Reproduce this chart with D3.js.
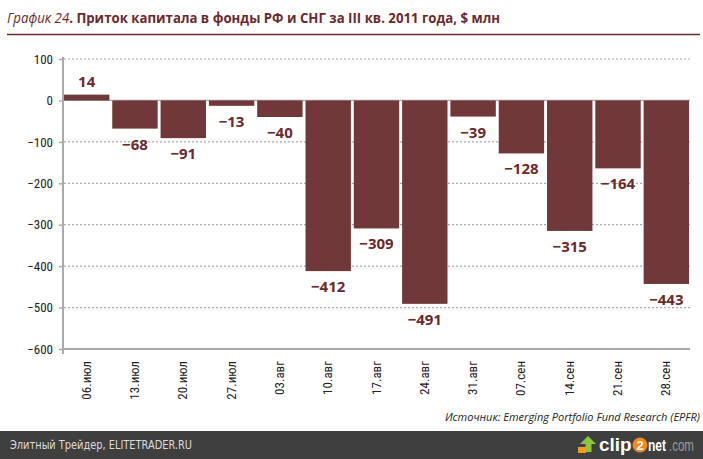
<!DOCTYPE html>
<html lang="ru">
<head>
<meta charset="utf-8">
<title>График 24</title>
<script src="https://d3js.org/d3.v7.min.js"></script>
<style>
  body { margin: 0; background: #fff; }
  svg { display: block; }
</style>
</head>
<body>
<script>
const width = 703, height = 459;

const weeks = ["06.июл", "13.июл", "20.июл", "27.июл", "03.авг", "10.авг", "17.авг",
               "24.авг", "31.авг", "07.сен", "14.сен", "21.сен", "28.сен"];
const flows = [14, -68, -91, -13, -40, -412, -309, -491, -39, -128, -315, -164, -443];
const yTicks = [100, 0, -100, -200, -300, -400, -500, -600];
const gridTicks = [100, -100, -200, -300, -400, -500];

const barColor = "#703838";
const textRed = "#6a2b2e";

const svg = d3.select("body").append("svg")
  .attr("width", width).attr("height", height);

// title
const title = svg.append("text")
  .attr("x", 7).attr("y", 23)
  .attr("font-family", "'Open Sans', sans-serif")
  .attr("font-size", "14px")
  .attr("fill", textRed)
  .attr("textLength", 493)
  .attr("lengthAdjust", "spacingAndGlyphs");
title.append("tspan").attr("font-style", "italic").text("График 24");
title.append("tspan").attr("font-weight", "bold").text(". Приток капитала в фонды РФ и СНГ за III кв. 2011 года, $ млн");

svg.append("line")
  .attr("x1", 7).attr("x2", 700).attr("y1", 34.5).attr("y2", 34.5)
  .attr("stroke", textRed).attr("stroke-width", 1.5);

const x = d3.scaleBand()
  .domain(weeks)
  .range([63, 690])
  .paddingInner(0.06)
  .paddingOuter(0.02);

const y = d3.scaleLinear()
  .domain([-600, 100])
  .range([349, 59]);

// grid
svg.append("g").selectAll("line")
  .data(gridTicks).join("line")
  .attr("x1", 64).attr("x2", 690)
  .attr("y1", d => y(d)).attr("y2", d => y(d))
  .attr("stroke", "#aaa").attr("stroke-width", 1.2)
  .attr("stroke-dasharray", "2,2");

// zero line
svg.append("line")
  .attr("x1", 63).attr("x2", 690)
  .attr("y1", y(0)).attr("y2", y(0))
  .attr("stroke", "#aaa").attr("stroke-width", 1.2);

// bars
svg.append("g").selectAll("rect")
  .data(flows).join("rect")
  .attr("x", (d, i) => x(weeks[i]))
  .attr("width", x.bandwidth())
  .attr("y", d => y(Math.max(0, d)))
  .attr("height", d => Math.abs(y(d) - y(0)))
  .attr("fill", barColor);

// value labels
svg.append("g").selectAll("text")
  .data(flows).join("text")
  .attr("x", (d, i) => x(weeks[i]) + x.bandwidth() / 2)
  .attr("y", d => d >= 0 ? y(d) - 8 : y(d) + 21)
  .attr("text-anchor", "middle")
  .attr("font-family", "'Open Sans', sans-serif")
  .attr("font-weight", "bold")
  .attr("font-size", "15px")
  .attr("fill", textRed)
  .text(d => d < 0 ? "\u2212" + Math.abs(d) : d);

// left axis
const leftAxis = d3.axisLeft(y)
  .tickValues(yTicks)
  .tickSize(4)
  .tickFormat(d => d < 0 ? "\u2212" + Math.abs(d) : d);
const gy = svg.append("g")
  .attr("transform", "translate(63,0)")
  .call(leftAxis);
gy.select(".domain").attr("stroke", "#aaa").attr("stroke-width", 2)
  .attr("d", "M0," + (y(100) - 2) + "V" + (y(-600) + 5));
gy.selectAll(".tick line").attr("stroke", "#aaa").attr("stroke-width", 1.5);
gy.selectAll(".tick text")
  .attr("x", -10)
  .attr("font-family", "'Liberation Sans Narrow', 'Roboto Condensed', 'Open Sans', sans-serif")
  .attr("font-size", "13px")
  .attr("fill", "#222");

// bottom axis
svg.append("line")
  .attr("x1", 62).attr("x2", 690)
  .attr("y1", y(-600)).attr("y2", y(-600))
  .attr("stroke", "#aaa").attr("stroke-width", 2);

svg.append("g").selectAll("text")
  .data(weeks).join("text")
  .attr("transform", d => "translate(" + (x(d) + x.bandwidth() / 2 + 4) + ",361) rotate(-90)")
  .attr("text-anchor", "end")
  .attr("font-family", "'Liberation Sans Narrow', 'Roboto Condensed', 'Open Sans', sans-serif")
  .attr("font-size", "13px")
  .attr("fill", "#222")
  .text(d => d);

// source
svg.append("text")
  .attr("x", 700).attr("y", 421)
  .attr("text-anchor", "end")
  .attr("font-family", "'Liberation Sans Narrow', 'Open Sans', sans-serif")
  .attr("font-style", "italic")
  .attr("font-size", "11px")
  .attr("fill", "#222")
  .text("Источник: Emerging Portfolio Fund Research (EPFR)");

// footer
svg.append("rect")
  .attr("x", 0).attr("y", 431).attr("width", width).attr("height", 28)
  .attr("fill", "#3f3f3f");
svg.append("text")
  .attr("x", 10).attr("y", 449)
  .attr("font-family", "'DejaVu Sans', sans-serif")
  .attr("font-size", "12px")
  .attr("fill", "#dcdcdc")
  .attr("textLength", 182)
  .attr("lengthAdjust", "spacingAndGlyphs")
  .text("Элитный Трейдер, ELITETRADER.RU");

// clip2net logo
const logo = svg.append("g").attr("transform", "translate(578,433)");
logo.append("path")
  .attr("d", "M10,3 L18,11 L13.5,11 L13.5,19 L7.5,19 L7.5,11 L2,11 Z")
  .attr("fill", "#8cc63f");
logo.append("rect").attr("x", 0).attr("y", 14).attr("width", 8).attr("height", 6).attr("fill", "#f39a1e");
logo.append("text")
  .attr("transform", "translate(21,18) scale(1.05,1)")
  .attr("font-family", "'Liberation Sans', Arial, sans-serif")
  .attr("font-size", "18px").attr("font-weight", "bold").attr("fill", "#fff")
  .text("clip");
logo.append("circle").attr("cx", 62).attr("cy", 12).attr("r", 7.5).attr("fill", "#f08a1c");
logo.append("text").attr("x", 62).attr("y", 17).attr("text-anchor", "middle")
  .attr("font-family", "'Liberation Sans', Arial, sans-serif")
  .attr("font-size", "13px").attr("font-weight", "bold").attr("fill", "#fff").text("2");
logo.append("text")
  .attr("transform", "translate(70,18) scale(0.75,1)")
  .attr("font-family", "'Liberation Sans', Arial, sans-serif")
  .attr("font-size", "16px").attr("font-weight", "bold").attr("fill", "#fff")
  .text("net");
logo.append("text")
  .attr("transform", "translate(91,18) scale(0.72,1)")
  .attr("font-family", "'Liberation Sans', Arial, sans-serif")
  .attr("font-size", "16px").attr("fill", "#9a9a9a")
  .text(".com");
</script>
</body>
</html>
